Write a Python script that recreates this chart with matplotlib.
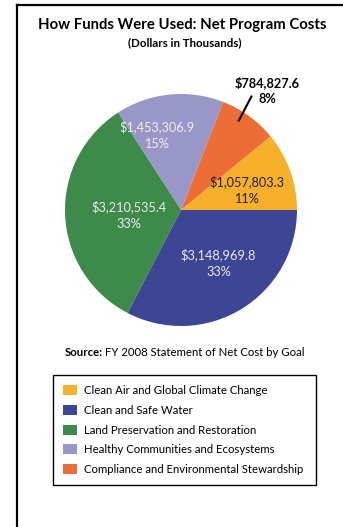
import matplotlib
matplotlib.use("Agg")
import matplotlib.pyplot as plt
from matplotlib.patches import Patch
from matplotlib.lines import Line2D
import numpy as np

# ---- data ----
categories = [
    "Clean Air and Global Climate Change",
    "Compliance and Environmental Stewardship",
    "Healthy Communities and Ecosystems",
    "Land Preservation and Restoration",
    "Clean and Safe Water",
]
values = [1057803.3, 784827.6, 1453306.9, 3210535.4, 3148969.8]
value_labels = ["$1,057,803.3", "$784,827.6", "$1,453,306.9", "$3,210,535.4", "$3,148,969.8"]
pct_labels = ["11%", "8%", "15%", "33%", "33%"]
legend_order = [
    "Clean Air and Global Climate Change",
    "Clean and Safe Water",
    "Land Preservation and Restoration",
    "Healthy Communities and Ecosystems",
    "Compliance and Environmental Stewardship",
]

# ---- style ----
colors = {
    "Clean Air and Global Climate Change": "#F6B02A",
    "Compliance and Environmental Stewardship": "#EC6E36",
    "Healthy Communities and Ecosystems": "#9897C7",
    "Land Preservation and Restoration": "#3E8A4A",
    "Clean and Safe Water": "#3D4695",
}
label_colors = ["#2A1E05", "#000000", "#EEEEF6", "#E8F0E8", "#E6E8F4"]
label_r = [0.59, 1.27, 0.68, 0.45, 0.56]
label_dang = [-3, 0, 12, 3, 4]
font = "Lato"

W, H = 343, 527
fig = plt.figure(figsize=(W / 100, H / 100), dpi=100)
fig.patch.set_facecolor("white")

# frame lines (top and left)
fig.add_artist(Line2D([17 / W, 1.0], [1 - 4.5 / H, 1 - 4.5 / H], color="black", lw=1.6))
fig.add_artist(Line2D([17 / W, 17 / W], [0, 1 - 4.5 / H], color="black", lw=1.6))

# titles
fig.text(182 / W, 1 - 28.5 / H, "How Funds Were Used: Net Program Costs", ha="center", va="baseline",
         fontsize=10.7, fontweight="bold", family=font)
fig.text(185 / W, 1 - 46 / H, "(Dollars in Thousands)", ha="center", va="baseline",
         fontsize=8.3, fontweight="bold", family=font)

# pie
cx, cy, r = 181, 210, 116
ax = fig.add_axes([(cx - r) / W, 1 - (cy + r) / H, 2 * r / W, 2 * r / H])
wedges, _ = ax.pie(values, colors=[colors[c] for c in categories], startangle=0,
                   counterclock=True, radius=1.0, wedgeprops=dict(linewidth=0))
ax.set_xlim(-1, 1)
ax.set_ylim(-1, 1)
ax.set_aspect("auto")
ax.axis("off")

for i, w in enumerate(wedges):
    mid = np.deg2rad((w.theta1 + w.theta2) / 2 + label_dang[i])
    x, y = label_r[i] * np.cos(mid), label_r[i] * np.sin(mid)
    bold = (i == 1)
    ax.text(x, y, value_labels[i] + "\n" + pct_labels[i], ha="center", va="center",
            fontsize=9.2, color=label_colors[i], family=font, linespacing=1.45,
            fontweight="bold" if bold else "normal", clip_on=False)
    if bold:
        a = np.deg2rad((w.theta1 + w.theta2) / 2 + 3)
        ax.plot([0.91 * np.cos(a), 1.16 * np.cos(a + 0.02)], [0.91 * np.sin(a), 1.16 * np.sin(a + 0.02)],
                color="black", lw=1.5, clip_on=False, solid_capstyle="butt")

# source
t1 = fig.text(65 / W, 1 - 356 / H, "Source:", ha="left", va="baseline", fontsize=8.2, fontweight="bold", family=font)
fig.canvas.draw()
bb = t1.get_window_extent()
fig.text(bb.x1 / W + 2 / W, 1 - 356 / H, "FY 2008 Statement of Net Cost by Goal", ha="left", va="baseline",
         fontsize=8.2, family=font)

# legend
handles = [Patch(facecolor=colors[c], edgecolor="none") for c in legend_order]
leg = fig.legend(handles, legend_order, loc="upper left",
                 bbox_to_anchor=(53 / W, 1 - 484 / H, (316 - 53) / W, (484 - 375) / H),
                 mode="expand", frameon=True, fancybox=False, framealpha=1,
                 prop=dict(family=font, size=8.2), handlelength=1.25, handleheight=1.0,
                 labelspacing=0.76, borderpad=0.9, handletextpad=0.6, borderaxespad=0)
leg.get_frame().set_edgecolor("black")
leg.get_frame().set_linewidth(1.0)

fig.savefig("out.png", dpi=100, facecolor="white")
